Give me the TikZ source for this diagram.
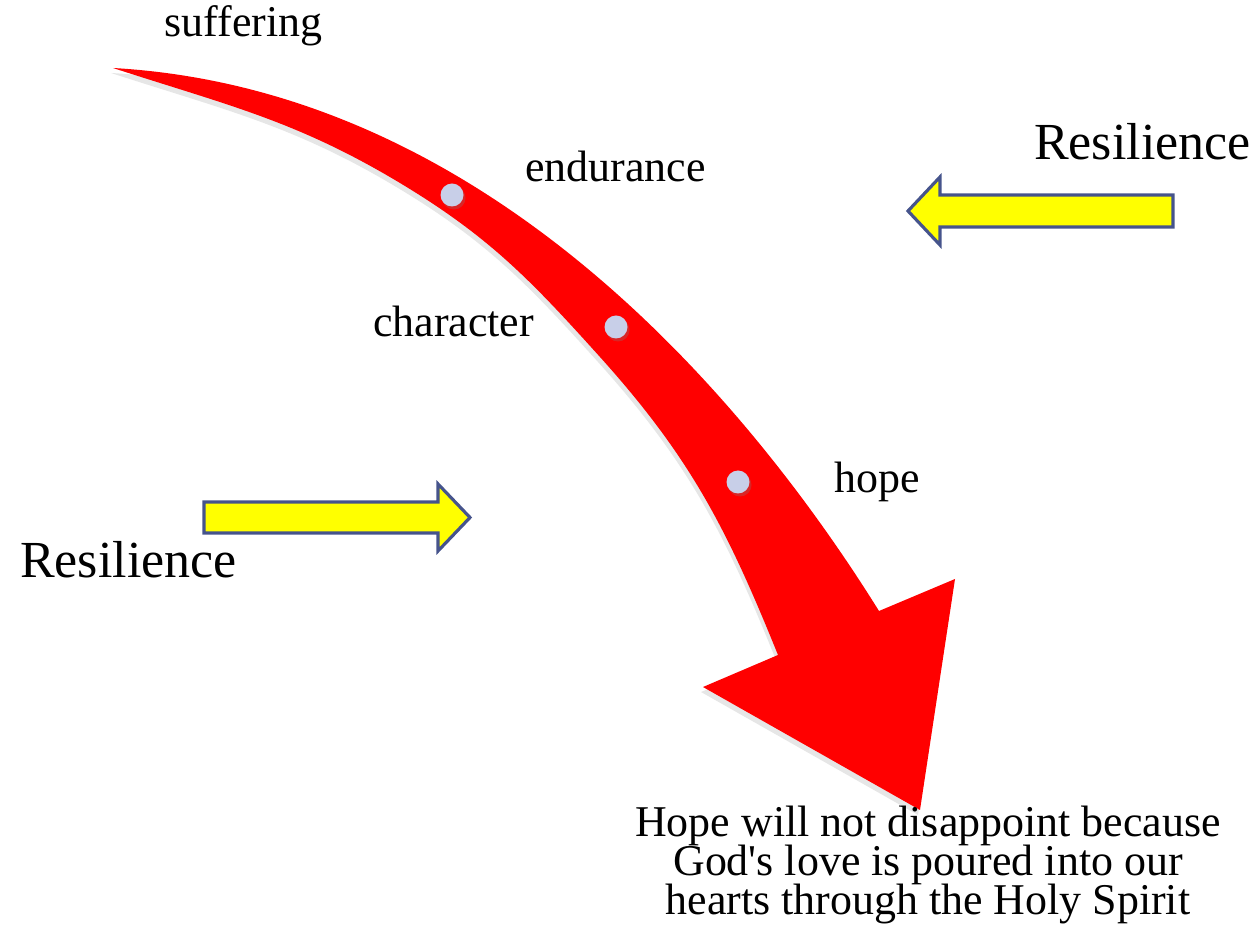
\documentclass[tikz,border=0pt]{standalone}
\usepackage{fontspec}
\setmainfont{Liberation Serif}[Ligatures=TeXOff]
\usepackage{xcolor}
\usetikzlibrary{positioning,shadows}
\definecolor{bandred}{RGB}{255,0,0}
\definecolor{dotblue}{RGB}{200,207,232}
\definecolor{edgeblue}{RGB}{70,84,140}
\definecolor{signyellow}{RGB}{255,255,0}

\begin{document}
\begin{tikzpicture}[
band/.style={fill=bandred,drop shadow={shadow xshift=-0.02cm,shadow yshift=-0.05cm,opacity=0.2}},
stage/.style={circle,fill=dotblue,minimum size=2.3mm,inner sep=0pt,drop shadow={shadow xshift=0.02cm,shadow yshift=-0.03cm,opacity=0.3}},
word/.style={anchor=base,inner sep=0pt,font=\fontsize{12.5}{15}\selectfont},
big/.style={anchor=base,inner sep=0pt,font=\fontsize{14.8}{18}\selectfont},
push/.style={draw=edgeblue,line width=0.9pt,fill=signyellow,line join=miter}]

\useasboundingbox (0,0) rectangle (12.58,9.29);

% curved red arrow
\fill[band] (1.13,8.61) .. controls (5.00,8.39) and (7.60,5.09) .. (8.79,3.18)
  -- (9.55,3.50) -- (9.20,1.19) -- (7.03,2.42) -- (7.78,2.74)
  to[out=112,in=-48] (6.00,5.72)
  to[out=132,in=-31] (4.00,7.46)
  to[out=149,in=-18] (1.13,8.61) -- cycle;

\node[stage] (d1) at (4.52,7.34) {};
\node[stage] (d2) at (6.16,6.02) {};
\node[stage] (d3) at (7.38,4.47) {};

\node[word] (suf) at (2.435,8.92) {suffering};
\node[word] (endu) at (6.155,7.47) {endurance};
\node[word] (char) at (4.535,5.92) {character};
\node[word] (hope) at (8.775,4.36) {hope};

% yellow arrows
\draw[push] (11.73,7.34) -- (9.40,7.34) -- (9.40,7.52) -- (9.08,7.18) -- (9.40,6.84) -- (9.40,7.02) -- (11.73,7.02) -- cycle;
\draw[push] (2.04,4.27) -- (4.38,4.27) -- (4.38,4.45) -- (4.70,4.115) -- (4.38,3.78) -- (4.38,3.96) -- (2.04,3.96) -- cycle;

\node[big] (res1) at (11.425,7.69) {Resilience};
\node[big] (res2) at (1.285,3.51) {Resilience};

\node[word,align=center] (msg) at (9.28,0.14)
  {Hope will not disappoint because\\[-3.9pt]God's love is poured into our\\[-3.9pt]hearts through the Holy Spirit};
\end{tikzpicture}
\end{document}
